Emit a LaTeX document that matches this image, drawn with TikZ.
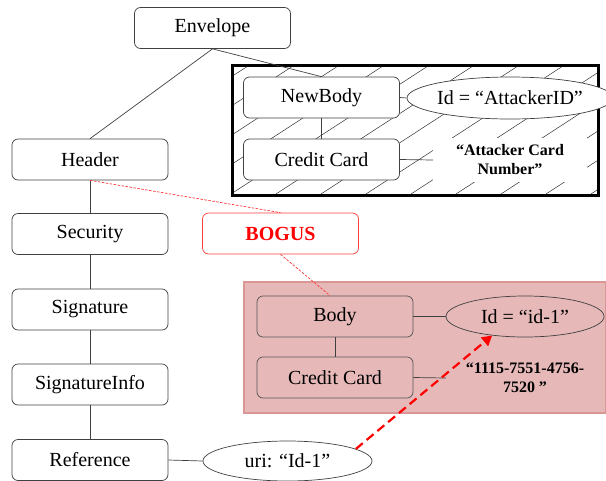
\documentclass[tikz,border=0pt]{standalone}
\usepackage{fontspec}
\setmainfont{Liberation Serif}
\usetikzlibrary{shapes.geometric,arrows.meta}
\definecolor{pinkfill}{HTML}{E6B9B8}
\definecolor{pinkedge}{HTML}{D99694}
\definecolor{boxedge}{HTML}{404040}
\definecolor{bogusedge}{HTML}{FF4040}
\begin{document}
\begin{tikzpicture}[x=1pt,y=-1pt,
  box/.style={draw=boxedge, line width=0.7pt, rounded corners=6pt, minimum width=156pt, minimum height=41pt, fill=white, inner sep=0pt, font=\fontsize{20}{24}\selectfont},
  oval/.style={ellipse, draw=boxedge, line width=0.7pt, minimum width=154pt, minimum height=42pt, inner sep=0pt, fill=white, font=\fontsize{20}{24}\selectfont},
  valtext/.style={inner sep=0pt, minimum width=154pt, minimum height=44pt, align=center, font=\fontsize{16}{19}\selectfont\bfseries},
  link/.style={draw=boxedge, line width=0.7pt},
  reddot/.style={draw=red!80, line width=0.7pt, dash pattern=on 2.5pt off 1.5pt},
  hatchline/.style={draw=black!80, line width=0.5pt}
  ]
\useasboundingbox (0,0) rectangle (606,480);

% hatched frame
\begin{scope}
  \clip (231,64) rectangle (597,194);
  \foreach \i in {-8,...,9} {
    \draw[hatchline] (231+\i*45,194) -- ++(320,-208);
  }
\end{scope}
\node[draw=black, line width=2.5pt, minimum width=366pt, minimum height=130pt, anchor=north west, inner sep=0pt] (frame) at (231,64) {};

% pink frame
\node[draw=pinkedge, fill=pinkfill, line width=2pt, minimum width=362pt, minimum height=131pt, anchor=north west, inner sep=0pt] (pinkframe) at (243,281) {};

% left column
\node[box] (env) at (212.5,28) {Envelope};
\node[box] (header) at (90,159.5) {Header};
\node[box] (security) at (90,234) {Security};
\node[box] (signature) at (90,309.5) {Signature};
\node[box] (siginfo) at (90,384.5) {SignatureInfo};
\node[box] (reference) at (90,460) {Reference};
\node[oval, minimum width=169pt, minimum height=40pt] (uri) at (287.5,461) {uri: “Id-1”};

% new body
\node[box] (newbody) at (321.5,97.5) {NewBody};
\node[box] (cc1) at (321.5,159.5) {Credit Card};
\node[oval] (attid) at (510,98) {Id = “AttackerID”};
\node[valtext, fill=white] (attcard) at (510,160) {“Attacker Card\\Number”};

% bogus
\node[box, draw=bogusedge, text=red, font=\fontsize{20}{24}\selectfont\bfseries] (bogus) at (280.5,233.5) {BOGUS};

% body
\node[box, fill=pinkfill, draw=boxedge!90] (body) at (335,316.5) {Body};
\node[box, fill=pinkfill, draw=boxedge!90] (cc2) at (335,377.5) {Credit Card};
\node[oval, fill=pinkfill, minimum width=158pt, minimum height=41pt] (id1) at (525,316.5) {Id = “id-1”};
\node[valtext, minimum width=158pt] (card2) at (525,378) {“1115-7551-4756-\\7520 ”};

% connectors
\draw[link] (env.south) -- (header.north);
\draw[link] (env.south) -- (newbody.north);
\draw[link] (header.south) -- (security.north);
\draw[link] (security.south) -- (signature.north);
\draw[link] (signature.south) -- (siginfo.north);
\draw[link] (siginfo.south) -- (reference.north);
\draw[link] (reference.east) -- (uri.west);
\draw[link] (newbody.south) -- (cc1.north);
\draw[link] (newbody.east) -- (attid.west);
\draw[link] (cc1.east) -- (attcard.west);
\draw[link] (body.south) -- (cc2.north);
\draw[link] (body.east) -- (id1.west);
\draw[link] (cc2.east) -- (card2.west);

\draw[reddot] (header.south) -- (bogus.north);
\draw[reddot] (bogus.south) -- ([xshift=-5pt]body.north);

\draw[red, line width=2.2pt, dash pattern=on 9pt off 5pt, -{Triangle[length=10pt,width=11pt]}] (uri.10) -- (id1.210);
\end{tikzpicture}
\end{document}
